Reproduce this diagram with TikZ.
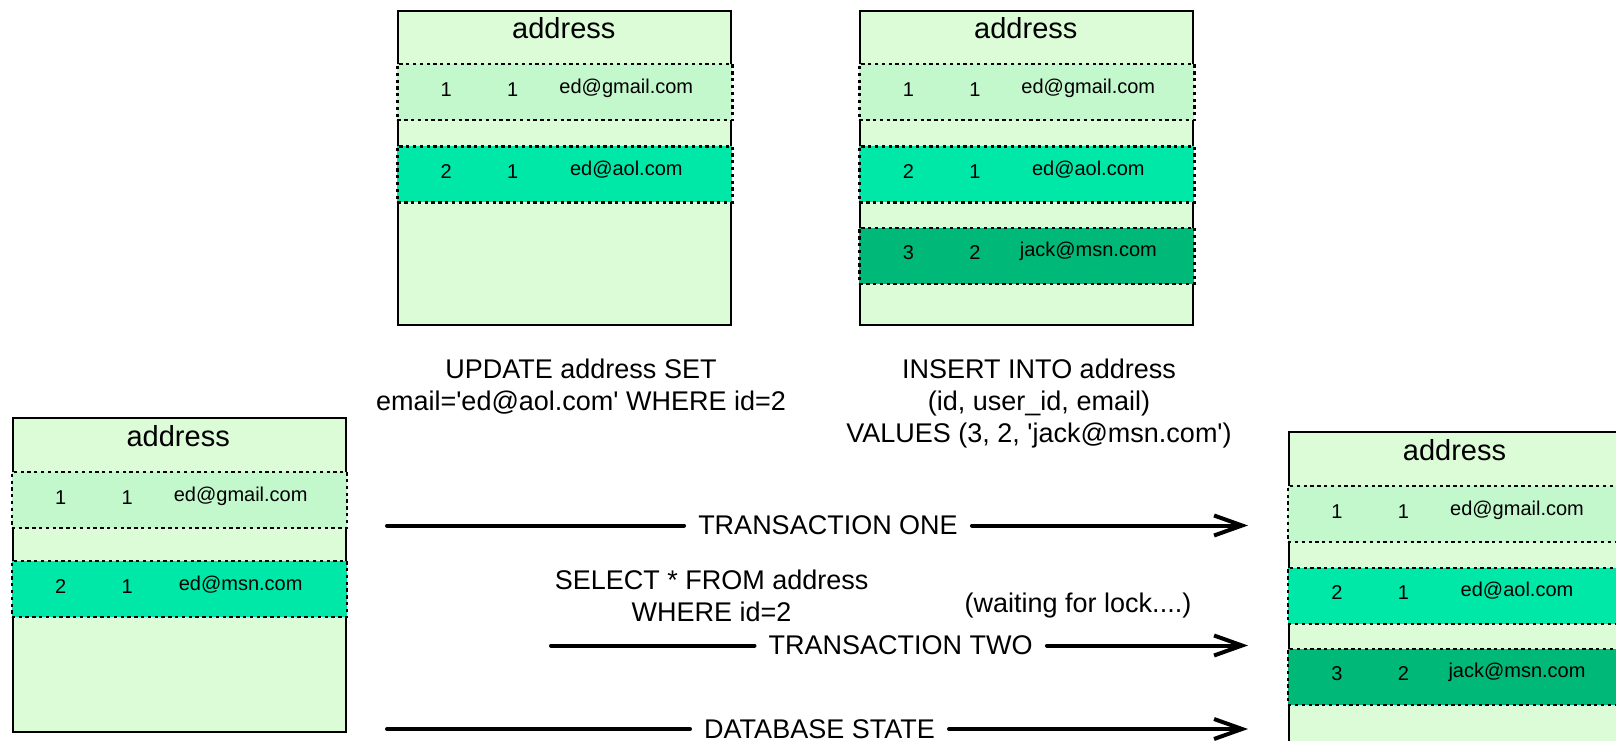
\documentclass[tikz,border=0pt]{standalone}
\usepackage{fontspec}
\setmainfont{Liberation Sans}
\usetikzlibrary{arrows.meta}

\definecolor{tablebg}{RGB}{220,251,215}
\definecolor{rowlight}{RGB}{194,248,204}
\definecolor{rowmid}{RGB}{0,232,168}
\definecolor{rowdark}{RGB}{0,184,120}

% one "address" table frame with its title, drawn at the current scope origin
\newcommand\addrtable[1]{%
  \node[tablebox] (#1) at (0,0) {};
  \node[titletext] (#1-title) at (166.5,29) {address};
}
% one table row: name, top, fill, id, user id, email
\newcommand\addrrow[6]{%
  \node[rowbox, fill=#3] (#1) at (-1,#2) {};
  \node[celltext] (#1-id) at (49,#2+33) {#4};
  \node[celltext] (#1-uid) at (115.5,#2+33) {#5};
  \node[celltext] (#1-email) at (229,#2+30) {#6};
}

\begin{document}
\begin{tikzpicture}[x=1pt,y=-1pt,
  tablebox/.style={draw, line width=2pt, fill=tablebg, minimum width=333pt,
    minimum height=314pt, inner sep=0pt, anchor=north west},
  rowbox/.style={draw, line width=2.2pt, dash pattern=on 3.3pt off 3.5pt,
    minimum width=335pt, minimum height=56pt, inner sep=0pt, anchor=north west},
  titletext/.style={font=\fontsize{29}{32}\selectfont, anchor=base, inner sep=0pt},
  celltext/.style={font=\fontsize{20}{24}\selectfont, anchor=base, inner sep=0pt},
  % multi-line statements are placed by the baseline of their last line
  sqltext/.style={font=\fontsize{27}{32}\selectfont, align=center, anchor=base, inner sep=0pt},
  flowlabel/.style={font=\fontsize{27}{32}\selectfont, inner xsep=14pt, inner ysep=0pt},
  flowline/.style={line width=4pt, line cap=round},
  flowarrow/.style={flowline, -{Straight Barb[length=28pt,width=20pt]}}]

\useasboundingbox (0,0) rectangle (1616,741);
\clip (0,0) rectangle (1616,741);

% state after the UPDATE
\begin{scope}[shift={(397.3,10)}]
  \addrtable{upd}
  \addrrow{upd-r1}{53.3}{rowlight}{1}{1}{ed@gmail.com}
  \addrrow{upd-r2}{135.3}{rowmid}{2}{1}{ed@aol.com}
\end{scope}

% state after the INSERT
\begin{scope}[shift={(859.3,10)}]
  \addrtable{ins}
  \addrrow{ins-r1}{53.3}{rowlight}{1}{1}{ed@gmail.com}
  \addrrow{ins-r2}{135.3}{rowmid}{2}{1}{ed@aol.com}
  \addrrow{ins-r3}{216.7}{rowdark}{3}{2}{jack@msn.com}
\end{scope}

% initial state
\begin{scope}[shift={(11.7,417.3)}]
  \addrtable{before}
  \addrrow{before-r1}{53.7}{rowlight}{1}{1}{ed@gmail.com}
  \addrrow{before-r2}{142.7}{rowmid}{2}{1}{ed@msn.com}
\end{scope}

% final state
\begin{scope}[shift={(1288,431)}]
  \addrtable{after}
  \addrrow{after-r1}{54}{rowlight}{1}{1}{ed@gmail.com}
  \addrrow{after-r2}{135.7}{rowmid}{2}{1}{ed@aol.com}
  \addrrow{after-r3}{216.7}{rowdark}{3}{2}{jack@msn.com}
\end{scope}

% statements
\node[sqltext] (update) at (581,410)
  {UPDATE address SET\\email=\textquotesingle ed@aol.com\textquotesingle{} WHERE id=2};
\node[sqltext] (insert) at (1039,442)
  {INSERT INTO address\\(id, user\_id, email)\\VALUES (3, 2, \textquotesingle jack@msn.com\textquotesingle)};
\node[sqltext] (select) at (711.6,621) {SELECT * FROM address\\WHERE id=2};
\node[sqltext] (waiting) at (1078,612) {(waiting for lock....)};

% timelines
\coordinate (one-start) at (387,525.5);
\node[flowlabel] (one-label) at (828,525.5) {TRANSACTION ONE};
\coordinate (one-end) at (1248,525.5);
\draw[flowline] (one-start) -- (one-label);
\draw[flowarrow] (one-label) -- (one-end);

\coordinate (two-start) at (551,645.5);
\node[flowlabel] (two-label) at (900.7,645.5) {TRANSACTION TWO};
\coordinate (two-end) at (1248,645.5);
\draw[flowline] (two-start) -- (two-label);
\draw[flowarrow] (two-label) -- (two-end);

\coordinate (db-start) at (387,729);
\node[flowlabel] (db-label) at (819.5,729) {DATABASE STATE};
\coordinate (db-end) at (1248,729);
\draw[flowline] (db-start) -- (db-label);
\draw[flowarrow] (db-label) -- (db-end);
\end{tikzpicture}
\end{document}
